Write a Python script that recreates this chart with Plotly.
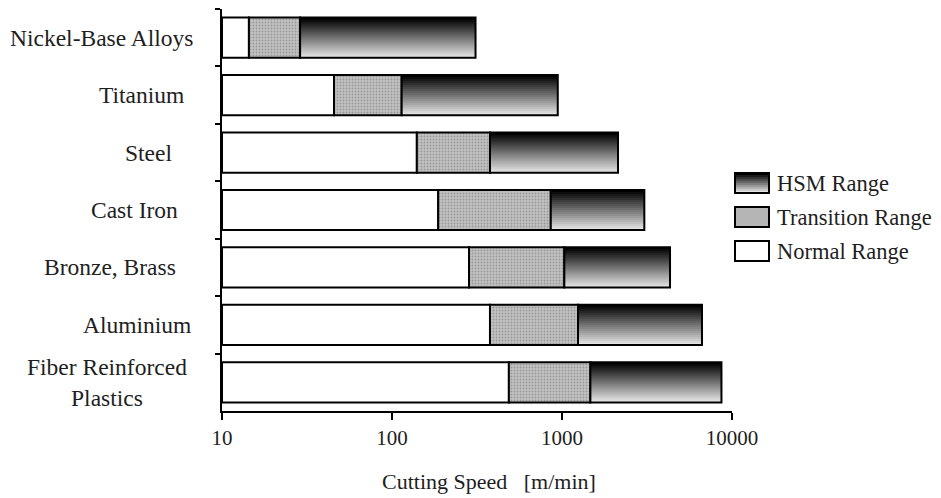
import plotly.graph_objects as go

# ---------------- data ----------------
categories = ["Nickel-Base Alloys", "Titanium", "Steel", "Cast Iron",
              "Bronze, Brass", "Aluminium", "Fiber Reinforced<br>Plastics"]
normal_end = [14.4, 45.6, 140, 187, 284, 377, 487]
transition_end = [28.8, 114, 377, 859, 1032, 1242, 1469]
hsm_end = [310, 944, 2135, 3050, 4320, 6660, 8670]
axis_start = 10
tick_values = [10, 100, 1000, 10000]
tick_labels = ["10", "100", "1000", "10000"]
legend_names = ["HSM Range", "Transition Range", "Normal Range"]
x_title = "Cutting Speed\u00a0\u00a0\u00a0[m/min]"

# ---------------- style / layout helpers ----------------
OFF = 8                                 # page body margin of the html page
W, H = 941 - OFF, 498 - OFF
L, R, T, B = 222, 732, 9, 411          # plot area in window pixels
FONT = "Liberation Serif"
TXT = "#1e1e1e"
BAR_W = 0.7
N_STRIPS = 20


def px2x(px):
    return (px - L) / (R - L)


def py2y(py):
    return (B - py) / (B - T)


def grad_color(i, n):
    t = i / (n - 1)
    v = int(round(0 + t * 228))
    return f"rgb({v},{v},{v})"


fig = go.Figure()

normal_len = [n - axis_start for n in normal_end]
trans_len = [t - n for n, t in zip(normal_end, transition_end)]
hsm_len = [h - t for t, h in zip(transition_end, hsm_end)]

# Normal range
fig.add_trace(go.Bar(
    y=categories, x=normal_len, base=[axis_start] * len(categories),
    orientation="h", width=BAR_W, name=legend_names[2], showlegend=False,
    marker=dict(color="white", line=dict(color="black", width=2)),
    hoverinfo="skip"))

# Transition range (dotted grey)
fig.add_trace(go.Bar(
    y=categories, x=trans_len, base=normal_end,
    orientation="h", width=BAR_W, name=legend_names[1], showlegend=False,
    marker=dict(color="#bdbdbd",
                pattern=dict(shape=".", fgcolor="#6e6e6e", bgcolor="#c2c2c2",
                             size=3, solidity=0.3),
                line=dict(color="black", width=2)),
    hoverinfo="skip"))

# HSM range: vertical gradient built from overlapping thin strips
sw = BAR_W / N_STRIPS
for i in range(N_STRIPS):
    w = sw * 1.7 if i < N_STRIPS - 1 else sw
    fig.add_trace(go.Bar(
        y=categories, x=hsm_len, base=transition_end,
        orientation="h", width=w, offset=-BAR_W / 2 + i * sw,
        showlegend=False,
        marker=dict(color=grad_color(i, N_STRIPS), line=dict(width=0)),
        hoverinfo="skip"))

# HSM outline
fig.add_trace(go.Bar(
    y=categories, x=hsm_len, base=transition_end,
    orientation="h", width=BAR_W, name=legend_names[0], showlegend=False,
    marker=dict(color="rgba(0,0,0,0)", line=dict(color="black", width=2)),
    hoverinfo="skip"))

# ---------------- category labels ----------------
label_right = [195, 186, 174, 180, 178, 193, 189]
annotations = []
for cat, rpx in zip(categories, label_right):
    annotations.append(dict(
        x=px2x(rpx), xref="paper", y=cat, yref="y", text=cat,
        xanchor="right", yanchor="middle", align="center", showarrow=False,
        font=dict(family=FONT, size=23.5, color=TXT)))

# x-axis title
annotations.append(dict(
    x=px2x(489), xref="paper", y=py2y(481), yref="paper", text=x_title,
    xanchor="center", yanchor="middle", showarrow=False,
    font=dict(family=FONT, size=22, color=TXT)))

# ---------------- manual legend ----------------
shapes = []
box_x0, box_x1 = 735, 769
box_tops = [173, 207, 241]
box_h = 20
n_leg = 10
for i in range(n_leg):
    y0 = box_tops[0] + i * box_h / n_leg
    y1 = min(y0 + box_h / n_leg + 1, box_tops[0] + box_h)
    shapes.append(dict(type="rect", xref="paper", yref="paper",
                       x0=px2x(box_x0), x1=px2x(box_x1),
                       y0=py2y(y0), y1=py2y(y1),
                       fillcolor=grad_color(i, n_leg), line=dict(width=0),
                       layer="above"))
leg_fill = ["rgba(0,0,0,0)", "#b5b5b5", "white"]
for k, top in enumerate(box_tops):
    shapes.append(dict(type="rect", xref="paper", yref="paper",
                       x0=px2x(box_x0), x1=px2x(box_x1),
                       y0=py2y(top), y1=py2y(top + box_h),
                       fillcolor=leg_fill[k],
                       line=dict(color="black", width=2), layer="above"))
    annotations.append(dict(
        x=px2x(775), xref="paper", y=py2y(top + box_h / 2), yref="paper",
        text=legend_names[k], xanchor="left", yanchor="middle",
        showarrow=False, font=dict(family=FONT, size=22.5, color=TXT)))

fig.update_layout(
    width=W, height=H,
    margin=dict(l=L - OFF, r=941 - R, t=T - OFF, b=498 - B, pad=0),
    paper_bgcolor="white", plot_bgcolor="white",
    barmode="overlay", showlegend=False,
    annotations=annotations, shapes=shapes,
    xaxis=dict(type="log", range=[1, 4], tickvals=tick_values,
               ticktext=tick_labels, ticks="outside", ticklen=7, tickwidth=2,
               tickcolor="black", showline=True, linecolor="black",
               linewidth=2, showgrid=False, zeroline=False,
               tickfont=dict(family=FONT, size=21, color=TXT)),
    yaxis=dict(type="category", categoryorder="array",
               categoryarray=categories, range=[6.5, -0.5],
               tickson="boundaries", ticks="outside", ticklen=5, tickwidth=2,
               tickcolor="black", showticklabels=False, showline=True,
               linecolor="black", linewidth=2, showgrid=False,
               zeroline=False),
)

fig.write_html("out.html")
